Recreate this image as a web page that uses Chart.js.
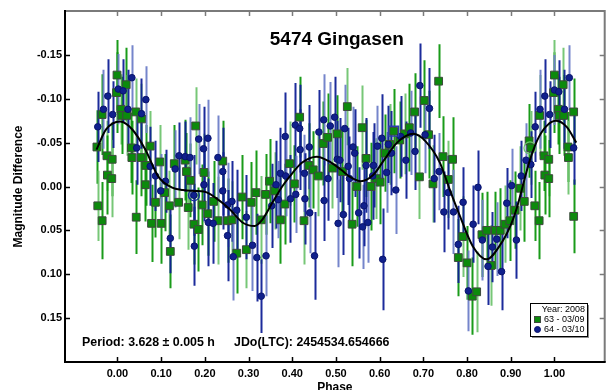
<!DOCTYPE html>
<html>
<head>
<meta charset="utf-8">
<script src="https://cdn.jsdelivr.net/npm/chart.js@4.4.1/dist/chart.umd.min.js"></script>
<style>
  html, body { margin: 0; padding: 0; background: #fff; }
  canvas { display: block; }
</style>
</head>
<body>
<canvas id="lc" width="613" height="390"></canvas>
<script>
// Lightcurve of (5474) Gingasen, folded on P = 3.628 h
const TITLE = '5474 Gingasen';
const Y_TITLE = 'Magnitude Difference';
const X_TITLE = 'Phase';
const PERIOD_TEXT = 'Period: 3.628 \u00b1 0.005 h';
const EPOCH_TEXT = 'JDo(LTC): 2454534.654666';
const LEGEND_HEADER = 'Year: 2008';

const X_TICKS = [0.00, 0.10, 0.20, 0.30, 0.40, 0.50, 0.60, 0.70, 0.80, 0.90, 1.00];
const Y_TICKS = [-0.15, -0.10, -0.05, 0.00, 0.05, 0.10, 0.15];

// Session 63 (2008-03-09)
const PHASE_63 = [
  -0.047,-0.045,-0.035,-0.035,-0.024,-0.023,-0.012,-0.013,-0.001,-0.002,
  0.008,0.010,0.020,0.021,0.032,0.033,0.042,0.043,0.054,0.055,
  0.064,0.065,0.075,0.078,0.087,0.097,0.100,0.108,0.119,0.121,
  0.130,0.140,0.155,0.158,0.162,0.167,0.175,0.179,0.185,0.194,
  0.198,0.207,0.220,0.230,0.241,0.252,0.262,0.273,0.285,0.295,
  0.306,0.317,0.329,0.339,0.348,0.360,0.373,0.383,0.394,0.405,
  0.417,0.427,0.438,0.448,0.460,0.471,0.481,0.492,0.503,0.515,
  0.526,0.537,0.548,0.560,0.569,0.580,0.592,0.601,0.613,0.623,
  0.632,0.646,0.657,0.668,0.680,0.691,0.702,0.712,0.722,0.735,
  0.745,0.757,0.767,0.780,0.790,0.800,0.812,0.822,0.834,0.845,
  0.855,0.865,0.876,0.887,0.898,0.910,0.922,0.931,0.942,0.946,
  0.955,0.965,0.966,0.976,0.978,0.987,0.987,0.998,1.000,1.009,
  1.011,1.020,1.021,1.031,1.032,1.044,1.044
];
const MAG_63 = [
  -0.045,0.022,-0.082,0.039,-0.035,-0.013,-0.031,-0.009,-0.127,-0.107,
  -0.088,-0.081,-0.116,-0.081,-0.044,-0.033,-0.085,0.035,-0.033,-0.077,
  -0.002,-0.024,-0.046,0.042,0.018,-0.028,0.042,0.007,0.022,0.074,
  -0.026,0.018,-0.030,-0.017,0.024,-0.007,0.043,-0.069,0.049,0.021,
  -0.016,0.031,0.017,0.039,-0.029,0.039,0.038,0.076,0.012,0.072,
  0.018,0.007,0.038,0.009,-0.006,0.005,0.038,0.020,-0.026,-0.003,
  -0.079,0.039,-0.024,-0.019,-0.012,-0.049,-0.056,-0.021,-0.060,-0.017,
  -0.091,0.043,0.000,-0.067,-0.032,0.000,-0.009,-0.005,-0.038,-0.048,
  -0.063,-0.053,-0.060,-0.067,-0.085,-0.011,-0.098,-0.059,-0.003,-0.120,
  -0.034,-0.008,-0.031,0.081,0.057,0.087,0.125,0.120,0.055,0.050,
  0.090,0.050,0.050,0.043,0.039,0.027,0.002,0.017,-0.052,-0.044,
  0.022,0.039,-0.081,-0.035,-0.013,-0.031,-0.009,-0.107,-0.127,-0.088,
  -0.081,-0.116,-0.081,-0.045,-0.033,-0.085,0.034
];
const ERR_63 = [
  0.042,0.040,0.046,0.044,0.040,0.045,0.042,0.044,0.040,0.046,
  0.040,0.044,0.042,0.046,0.040,0.042,0.038,0.042,0.044,0.040,
  0.042,0.046,0.040,0.044,0.040,0.042,0.046,0.044,0.040,0.042,
  0.044,0.042,0.046,0.044,0.048,0.042,0.046,0.044,0.048,0.046,
  0.044,0.048,0.046,0.050,0.046,0.048,0.044,0.046,0.048,0.044,
  0.046,0.048,0.050,0.046,0.048,0.044,0.050,0.046,0.048,0.044,
  0.046,0.050,0.048,0.044,0.046,0.048,0.050,0.046,0.044,0.048,
  0.044,0.048,0.046,0.048,0.044,0.050,0.046,0.048,0.044,0.046,
  0.048,0.044,0.046,0.050,0.044,0.048,0.046,0.050,0.044,0.042,
  0.046,0.044,0.048,0.044,0.046,0.042,0.044,0.046,0.048,0.044,
  0.046,0.044,0.048,0.044,0.046,0.044,0.048,0.046,0.042,0.042,
  0.040,0.044,0.046,0.040,0.045,0.042,0.044,0.046,0.040,0.040,
  0.044,0.042,0.046,0.040,0.042,0.038,0.042
];

// Session 64 (2008-03-10)
const PHASE_64 = [
  -0.045,-0.032,-0.022,-0.011,0.002,0.013,0.024,0.033,0.044,0.055,
  0.065,0.075,0.087,0.099,0.110,0.121,0.132,0.141,0.155,0.166,
  0.175,0.176,0.186,0.197,0.198,0.207,0.208,0.219,0.230,0.241,
  0.241,0.252,0.252,0.262,0.265,0.273,0.295,0.309,0.319,0.329,
  0.340,0.353,0.363,0.368,0.373,0.384,0.385,0.396,0.407,0.408,
  0.417,0.418,0.428,0.429,0.439,0.440,0.451,0.461,0.472,0.473,
  0.482,0.487,0.497,0.503,0.505,0.509,0.517,0.520,0.528,0.531,
  0.539,0.543,0.552,0.561,0.564,0.569,0.573,0.584,0.586,0.595,
  0.605,0.607,0.616,0.620,0.627,0.637,0.648,0.660,0.671,0.681,
  0.692,0.704,0.714,0.725,0.736,0.747,0.757,0.769,0.780,0.791,
  0.803,0.814,0.825,0.835,0.848,0.858,0.868,0.879,0.891,0.902,
  0.913,0.924,0.935,0.946,0.956,0.967,0.978,0.989,1.000,1.010,
  1.023,1.034,1.044
];
const MAG_64 = [
  -0.068,-0.088,-0.103,-0.082,-0.111,-0.109,-0.088,-0.124,-0.044,-0.083,
  -0.099,-0.023,-0.012,0.005,-0.006,0.059,-0.020,-0.035,-0.034,-0.033,
  0.010,0.068,-0.054,-0.043,-0.002,-0.055,0.041,0.042,-0.033,-0.017,
  0.005,0.021,0.056,0.017,0.080,0.027,0.035,0.067,0.081,0.125,
  0.079,0.022,-0.002,0.015,-0.015,-0.057,-0.012,0.014,-0.070,0.009,
  -0.066,-0.042,-0.015,0.014,-0.045,0.030,0.079,-0.062,-0.076,0.016,
  -0.009,-0.069,-0.079,-0.031,0.042,-0.030,0.032,-0.066,-0.023,-0.009,
  -0.045,-0.038,0.030,0.046,0.022,-0.024,0.041,-0.012,-0.024,-0.046,
  -0.055,0.083,-0.016,-0.048,-0.038,0.004,-0.057,-0.030,-0.061,-0.040,
  -0.115,-0.059,-0.089,-0.009,-0.017,0.029,0.007,0.029,0.066,0.018,
  0.119,0.043,0.001,0.061,0.091,0.069,0.060,0.097,0.019,-0.001,
  0.061,-0.012,-0.030,-0.025,-0.068,-0.088,-0.103,-0.082,-0.110,-0.108,
  -0.088,-0.124,-0.044
];
const ERR_64 = [
  0.040,0.045,0.042,0.038,0.040,0.036,0.045,0.037,0.042,0.040,
  0.038,0.045,0.040,0.042,0.036,0.040,0.044,0.038,0.040,0.046,
  0.046,0.045,0.040,0.048,0.042,0.044,0.050,0.046,0.048,0.050,
  0.044,0.048,0.052,0.046,0.050,0.046,0.048,0.052,0.050,0.042,
  0.046,0.048,0.050,0.044,0.052,0.050,0.046,0.050,0.048,0.044,
  0.050,0.046,0.044,0.052,0.048,0.046,0.050,0.048,0.052,0.046,
  0.048,0.050,0.046,0.044,0.050,0.048,0.046,0.050,0.044,0.048,
  0.046,0.050,0.052,0.048,0.046,0.054,0.046,0.050,0.048,0.046,
  0.050,0.058,0.046,0.044,0.048,0.050,0.046,0.044,0.048,0.044,
  0.048,0.044,0.046,0.050,0.044,0.046,0.042,0.048,0.044,0.040,
  0.046,0.044,0.042,0.046,0.044,0.040,0.042,0.044,0.040,0.042,
  0.044,0.040,0.042,0.038,0.040,0.045,0.042,0.038,0.040,0.036,
  0.045,0.037,0.042
];

// Circled / boxed reference observations
const MARK_PHASE = [0.175, 0.632, 0.944];
const MARK_MAG = [0.010, -0.063, -0.044];

// Fourier fit to the folded data
const FIT_PHASE = [
  -0.048,-0.026,0.006,0.034,0.064,0.094,0.124,0.150,0.175,0.200,
  0.225,0.257,0.286,0.314,0.331,0.355,0.377,0.400,0.422,0.456,
  0.490,0.512,0.535,0.557,0.585,0.610,0.640,0.677,0.704,0.738,
  0.760,0.784,0.813,0.845,0.874,0.900,0.913,0.942,0.960,0.980,
  1.003,1.028,1.050
];
const FIT_MAG = [
  -0.042,-0.065,-0.074,-0.065,-0.042,-0.011,0.001,0.004,0.005,0.006,
  0.013,0.026,0.041,0.045,0.038,0.018,0.000,-0.015,-0.027,-0.034,
  -0.027,-0.019,-0.010,-0.006,-0.013,-0.030,-0.050,-0.060,-0.052,-0.027,
  0.003,0.034,0.068,0.083,0.068,0.044,0.026,-0.027,-0.052,-0.068,
  -0.075,-0.068,-0.050
];

const FONT = "'Liberation Sans', Arial, Helvetica, sans-serif";
const toPoints = (xs, ys) => xs.map((v, i) => ({ x: v, y: ys[i] }));

// Vertical error bars, drawn under the markers
const errorBars = {
  id: 'errorBars',
  beforeDatasetsDraw(chart) {
    const { ctx, chartArea: a, scales: { x, y } } = chart;
    ctx.save();
    ctx.beginPath();
    ctx.rect(a.left, a.top, a.right - a.left, a.bottom - a.top);
    ctx.clip();
    ctx.lineWidth = 2;
    ctx.lineCap = 'butt';
    // green session first, blue on top
    [...chart.data.datasets].reverse().forEach(ds => {
      if (!ds.errors) return;
      ds.data.forEach((p, i) => {
        const px = Math.round(x.getPixelForValue(p.x)) + 0.5;
        const y1 = y.getPixelForValue(p.y - ds.errors[i]);
        const y2 = y.getPixelForValue(p.y + ds.errors[i]);
        ctx.strokeStyle = (i % 3 === 1) ? ds.barLight : ds.barDark;
        ctx.beginPath();
        ctx.moveTo(px, y1);
        ctx.lineTo(px, y2);
        ctx.stroke();
      });
    });
    ctx.restore();
  }
};

// Frame, inward ticks, captions and the session key
const decorations = {
  id: 'decorations',
  afterDraw(chart) {
    const { ctx, chartArea: a, scales: { x, y } } = chart;
    ctx.save();

    // frame
    ctx.lineWidth = 2;
    ctx.strokeStyle = '#7a7a7a';
    ctx.beginPath();
    ctx.moveTo(a.left, a.top); ctx.lineTo(a.right, a.top); ctx.lineTo(a.right, a.bottom);
    ctx.stroke();
    ctx.strokeStyle = '#000';
    ctx.beginPath();
    ctx.moveTo(a.left, a.top - 1); ctx.lineTo(a.left, a.bottom); ctx.lineTo(a.right + 1, a.bottom);
    ctx.stroke();

    // inward tick marks
    const TL = 5;
    ctx.lineWidth = 1.5;
    X_TICKS.forEach(v => {
      const px = Math.round(x.getPixelForValue(v)) + 0.5;
      ctx.strokeStyle = '#000';
      ctx.beginPath(); ctx.moveTo(px, a.bottom); ctx.lineTo(px, a.bottom - TL); ctx.stroke();
      ctx.strokeStyle = '#7a7a7a';
      ctx.beginPath(); ctx.moveTo(px, a.top); ctx.lineTo(px, a.top + TL); ctx.stroke();
    });
    Y_TICKS.forEach(v => {
      const py = Math.round(y.getPixelForValue(v)) + 0.5;
      ctx.strokeStyle = '#000';
      ctx.beginPath(); ctx.moveTo(a.left, py); ctx.lineTo(a.left + TL, py); ctx.stroke();
      ctx.strokeStyle = '#7a7a7a';
      ctx.beginPath(); ctx.moveTo(a.right, py); ctx.lineTo(a.right - TL, py); ctx.stroke();
    });

    const cx = (a.left + a.right) / 2;
    ctx.fillStyle = '#000';
    ctx.textBaseline = 'middle';

    // title
    ctx.font = `bold 19px ${FONT}`;
    ctx.textAlign = 'center';
    ctx.fillText(TITLE, cx + 2, 40);

    // axis titles
    ctx.font = `bold 12px ${FONT}`;
    ctx.fillText(X_TITLE, cx, 388);
    ctx.save();
    ctx.translate(19, (a.top + a.bottom) / 2);
    ctx.rotate(-Math.PI / 2);
    ctx.fillText(Y_TITLE, 0, 0);
    ctx.restore();

    // period and epoch
    ctx.font = `bold 12.4px ${FONT}`;
    ctx.textAlign = 'left';
    ctx.fillText(PERIOD_TEXT, 82, 343);
    ctx.fillText(EPOCH_TEXT, 234, 343);

    // session key
    const bx = 530, by = 303, bw = 57, bh = 33;
    ctx.fillStyle = '#8c8c8c';
    ctx.fillRect(bx + 2, by + 2, bw, bh);
    ctx.fillStyle = '#fff';
    ctx.fillRect(bx, by, bw, bh);
    ctx.strokeStyle = '#000';
    ctx.lineWidth = 1;
    ctx.strokeRect(bx + 0.5, by + 0.5, bw, bh);
    ctx.fillStyle = '#000';
    ctx.font = `9px ${FONT}`;
    ctx.textAlign = 'right';
    ctx.fillText(LEGEND_HEADER, bx + bw - 2, by + 6.5);
    ctx.textAlign = 'left';
    const sessions = chart.data.datasets.filter(d => d.errors).reverse();
    sessions.forEach((ds, k) => {
      const ry = by + 16.5 + k * 10;
      ctx.fillStyle = ds.backgroundColor;
      ctx.strokeStyle = ds.borderColor;
      ctx.lineWidth = 1;
      if (ds.pointStyle === 'rect') {
        ctx.fillRect(bx + 4, ry - 3.5, 7, 7);
        ctx.strokeRect(bx + 4.5, ry - 3, 6, 6);
      } else {
        ctx.beginPath(); ctx.arc(bx + 7.5, ry, 3, 0, Math.PI * 2); ctx.fill(); ctx.stroke();
      }
      ctx.fillStyle = '#000';
      ctx.fillText(ds.label, bx + 14, ry);
    });

    ctx.restore();
  }
};

new Chart(document.getElementById('lc'), {
  type: 'scatter',
  data: {
    datasets: [
      {
        label: 'fit',
        data: toPoints(FIT_PHASE, FIT_MAG),
        showLine: true,
        borderColor: '#000',
        borderWidth: 2,
        pointRadius: 0,
        cubicInterpolationMode: 'monotone',
        fill: false,
        order: 0
      },
      {
        label: 'marked',
        data: toPoints(MARK_PHASE, MARK_MAG),
        pointStyle: ['circle', 'rect', 'circle'],
        pointRadius: [5.5, 7, 6],
        backgroundColor: 'rgba(0,0,0,0)',
        borderColor: ['#1a2aa0', '#2a3cb0', '#6cc46c'],
        borderWidth: 1.3,
        order: 1
      },
      {
        label: '64 - 03/10',
        data: toPoints(PHASE_64, MAG_64),
        errors: ERR_64,
        barDark: 'rgba(16,32,150,0.95)',
        barLight: 'rgba(110,126,200,0.95)',
        pointStyle: 'circle',
        pointRadius: 3.3,
        backgroundColor: '#10208c',
        borderColor: '#0a146c',
        borderWidth: 1,
        order: 2
      },
      {
        label: '63 - 03/09',
        data: toPoints(PHASE_63, MAG_63),
        errors: ERR_63,
        barDark: 'rgba(14,150,14,0.95)',
        barLight: 'rgba(112,196,112,0.95)',
        pointStyle: 'rect',
        pointRadius: 5.5,
        backgroundColor: '#0c8a0c',
        borderColor: '#3e4a3e',
        borderWidth: 1,
        order: 3
      }
    ]
  },
  options: {
    responsive: false,
    animation: false,
    devicePixelRatio: 1,
    events: [],
    layout: { padding: { top: 11, right: 2, left: 0, bottom: 0 } },
    plugins: { legend: { display: false }, tooltip: { enabled: false }, title: { display: false } },
    scales: {
      x: {
        type: 'linear',
        position: 'bottom',
        min: -0.12,
        max: 1.115,
        grid: { display: false, drawTicks: false },
        border: { display: false },
        afterBuildTicks: s => { s.ticks = X_TICKS.map(v => ({ value: v })); },
        afterFit: s => { s.height = 28; },
        ticks: {
          font: { family: FONT, size: 11, weight: 'bold' },
          color: '#000',
          padding: 5,
          maxRotation: 0,
          autoSkip: false,
          callback: v => Number(v).toFixed(2)
        }
      },
      y: {
        type: 'linear',
        position: 'left',
        reverse: true,
        min: -0.2,
        max: 0.2,
        grid: { display: false, drawTicks: false },
        border: { display: false },
        afterBuildTicks: s => { s.ticks = Y_TICKS.map(v => ({ value: v })); },
        afterFit: s => { s.width = 65; },
        ticks: {
          font: { family: FONT, size: 11, weight: 'bold' },
          color: '#000',
          padding: 3,
          autoSkip: false,
          callback: v => Number(v).toFixed(2)
        }
      }
    }
  },
  plugins: [errorBars, decorations]
});
</script>
</body>
</html>
